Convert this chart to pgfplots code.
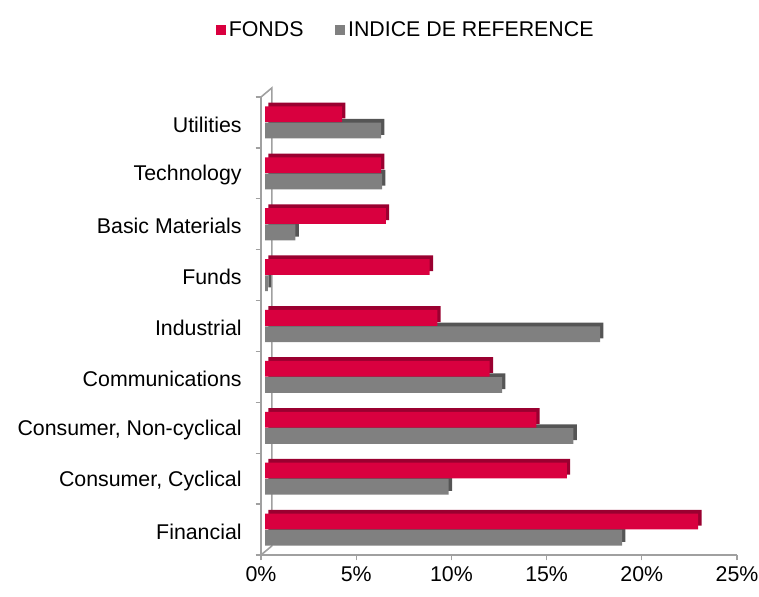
\documentclass[border=0pt]{standalone}
\usepackage{pgfplots}
\pgfplotsset{compat=1.18}
\usepackage{fontspec}
\setmainfont{Liberation Sans}
\definecolor{fred}{HTML}{D9003F}
\definecolor{fredd}{HTML}{9A0030}
\definecolor{fgray}{HTML}{808080}
\definecolor{fgrayd}{HTML}{555555}
\definecolor{axgray}{HTML}{A0A0A0}
\pgfplotstableread{
y fonds ref
0 22.75 18.75
1 15.85 9.65
2 14.25 16.2
3 11.8 12.45
4 9.05 17.6
5 8.65 0.15
6 6.35 1.6
7 6.1 6.15
8 4.05 6.1
}\datatable
\begin{document}
\begin{tikzpicture}
\useasboundingbox (0,0) rectangle (569.25pt,447pt);
\begin{axis}[
  at={(195.75pt,30.75pt)}, anchor=south west,
  scale only axis, width=357pt, height=343.5pt,
  xmin=0, xmax=25, ymin=-0.5, ymax=8.5,
  xtick={0,5,10,15,20,25},
  xticklabels={0\%,5\%,10\%,15\%,20\%,25\%},
  ytick={0,...,8},
  yticklabels={Financial,{Consumer, Cyclical},{Consumer, Non-cyclical},Communications,Industrial,Funds,Basic Materials,Technology,Utilities},
  minor ytick={-0.5,0.5,...,8.5},
  axis x line*=bottom, axis y line*=left,
  axis line style={axgray, line width=1.2pt},
  every tick/.style={axgray, line width=1pt},
  tick align=outside,
  major tick length=4pt, minor tick length=4pt,
  major y tick style={draw=none},
  minor y tick style={axgray, line width=1pt},
  tick label style={font=\fontsize{16}{19}\selectfont, text=black},
  yticklabel style={xshift=-7pt, yshift=-1.5pt},
  xticklabel style={yshift=-1pt},
  xbar, bar width=0.31,
  legend columns=2,
  legend style={draw=none, at={(0.305,1.146)}, anchor=center,
    font=\fontsize{16}{19}\selectfont, /tikz/every even column/.append style={column sep=22pt}},
  legend image code/.code={\fill[#1] (0pt,-3.75pt) rectangle (7.5pt,3.75pt);},
  clip=false,
]
\draw[axgray, line width=1.2pt] (axis description cs:0,1) -- (axis description cs:0.023,1.02) -- (axis description cs:0.023,0.02) -- (axis description cs:0,0);
\addplot[xbar, fill=fredd, draw=none, bar shift=0.16, xshift=5.5pt, yshift=2.8pt, forget plot] table[x=fonds,y=y] {\datatable};
\addplot[xbar, fill=fgrayd, draw=none, bar shift=-0.16, xshift=5.5pt, yshift=2.8pt, forget plot] table[x=ref,y=y] {\datatable};
\addplot[xbar, fill=fred, draw=none, bar shift=0.16, xshift=3pt] table[x=fonds,y=y] {\datatable};
\addplot[xbar, fill=fgray, draw=none, bar shift=-0.16, xshift=3pt] table[x=ref,y=y] {\datatable};
\legend{FONDS, INDICE DE REFERENCE}
\end{axis}
\end{tikzpicture}
\end{document}
